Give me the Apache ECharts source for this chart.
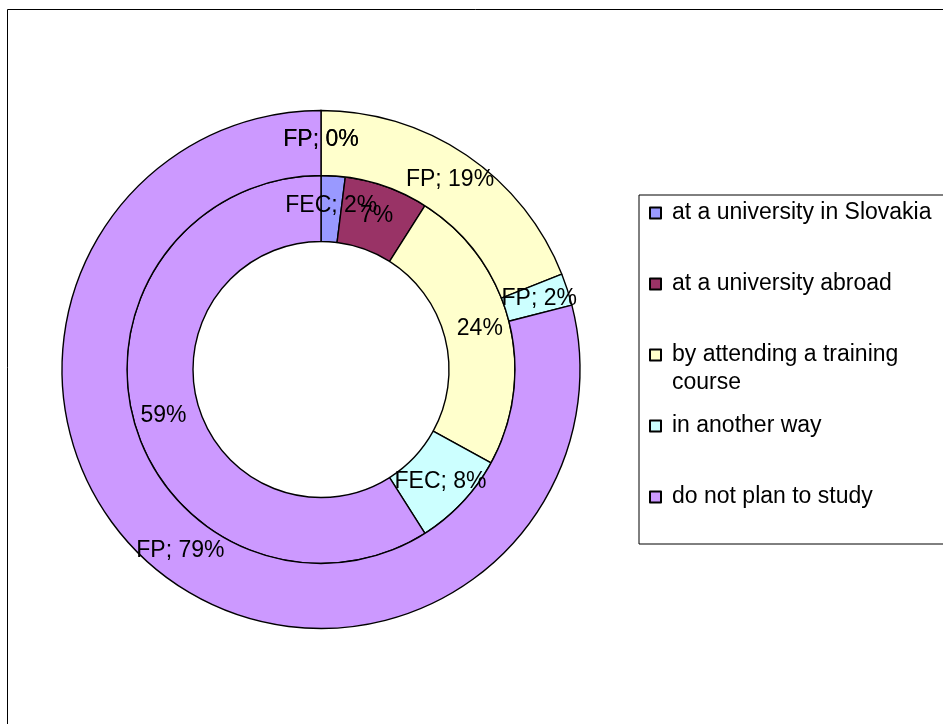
<!DOCTYPE html>
<html>
<head>
<meta charset="utf-8">
<script src="https://cdn.jsdelivr.net/npm/echarts@6/dist/echarts.min.js"></script>
<style>
  html, body { margin: 0; padding: 0; background: #fff; }
  #chart { width: 943px; height: 724px; }
</style>
</head>
<body>
<div id="chart"></div>
<script>
// categories and values (percent)
const categories = [
  'at a university in Slovakia',
  'at a university abroad',
  'by attending a training course',
  'in another way',
  'do not plan to study'
]
const colors = ['#9999FF', '#993366', '#FFFFCC', '#CCFFFF', '#CC99FF']
const fecValues = [2, 7, 24, 8, 59]  // inner ring
const fpValues = [0, 0, 19, 2, 79]   // outer ring
// inner ring labels only carry the series name on some slices
const fecNamed = [true, false, false, true, false]

const font = 'Liberation Sans, Arial, sans-serif'

const chart = echarts.init(document.getElementById('chart'))

const makeData = (values) =>
  values.map((v, i) => ({
    name: categories[i],
    value: v,
    itemStyle: { color: colors[i] }
  }))

// legend wraps the long entry, first line stays next to the icon
const legendFirstLine = (name) => name === categories[2] ? 'by attending a training' : name

const option = {
  animation: false,
  graphic: [
    {
      type: 'rect',
      shape: { x: 7.5, y: 9.5, width: 1000, height: 1000 },
      style: { fill: 'none', stroke: '#000', lineWidth: 1 },
      silent: true
    },
    {
      type: 'text',
      left: 672,
      top: 369,
      silent: true,
      style: {
        text: 'course',
        fontFamily: font,
        fontSize: 23,
        lineHeight: 28,
        fill: '#000'
      }
    }
  ],
  legend: {
    orient: 'vertical',
    left: 639,
    top: 195,
    padding: [4, 300, 33, 10],
    borderColor: '#000',
    borderWidth: 1,
    itemWidth: 11,
    itemHeight: 11,
    itemGap: 43,
    icon: 'rect',
    selectedMode: false,
    textStyle: {
      fontFamily: font,
      fontSize: 23,
      lineHeight: 28,
      color: '#000',
      padding: [0, 0, 0, 6]
    },
    formatter: legendFirstLine,
    data: categories
  },
  series: [
    {
      name: 'FEC',
      type: 'pie',
      center: [321, 369.5],
      radius: [128, 194],
      startAngle: 90,
      clockwise: true,
      itemStyle: { borderColor: '#000', borderWidth: 1.4 },
      label: {
        position: 'inside',
        fontFamily: font,
        fontSize: 23,
        color: '#000',
        formatter: (p) => (fecNamed[p.dataIndex] ? 'FEC; ' : '') + Math.round(p.percent) + '%'
      },
      labelLayout: { hideOverlap: false },
      labelLine: { show: false },
      emphasis: { disabled: true },
      data: makeData(fecValues)
    },
    {
      name: 'FP',
      type: 'pie',
      center: [321, 369.5],
      radius: [194, 259],
      startAngle: 90,
      clockwise: true,
      itemStyle: { borderColor: '#000', borderWidth: 1.4 },
      label: {
        position: 'inside',
        fontFamily: font,
        fontSize: 23,
        color: '#000',
        formatter: (p) => 'FP; ' + Math.round(p.percent) + '%'
      },
      labelLayout: { hideOverlap: false },
      labelLine: { show: false },
      emphasis: { disabled: true },
      data: makeData(fpValues)
    }
  ]
}

chart.setOption(option)
window.addEventListener('resize', () => chart.resize())
</script>
</body>
</html>
